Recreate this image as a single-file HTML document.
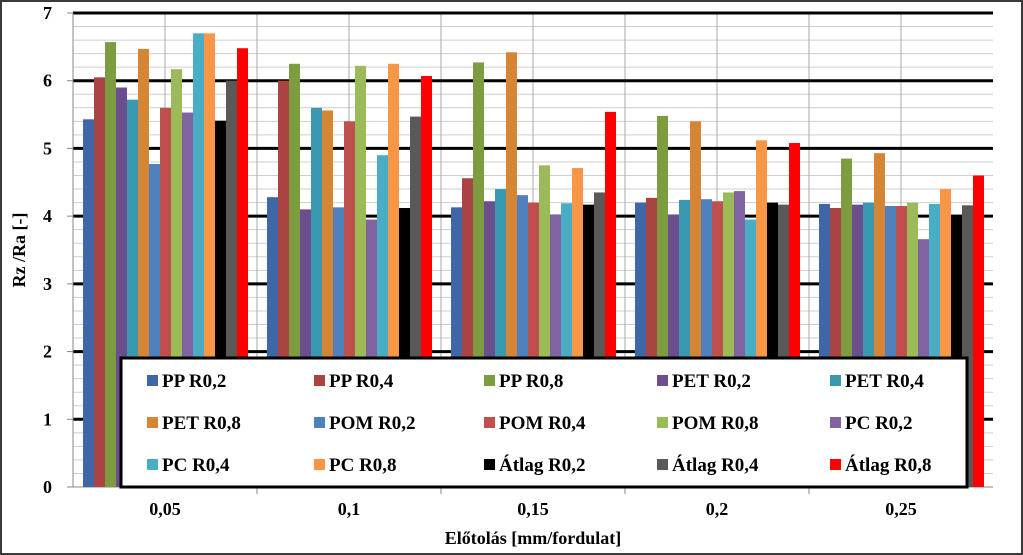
<!DOCTYPE html>
<html><head><meta charset="utf-8"><style>
body{margin:0;background:#fff;}
#wrap{position:relative;width:1023px;height:555px;overflow:hidden;background:#fff;}
#frame{position:absolute;left:0;top:0;width:1019px;height:551px;border:2px solid #3a3a3a;}
svg text{font-family:"Liberation Serif",serif;font-weight:bold;}
</style></head><body>
<div id="wrap">
<div id="frame"></div>
<svg id="chart" width="1023" height="555" style="position:absolute;left:0;top:0"></svg>
</div>
<script>
const categories=["0,05","0,1","0,15","0,2","0,25"];
const seriesNames=["PP R0,2","PP R0,4","PP R0,8","PET R0,2","PET R0,4","PET R0,8","POM R0,2","POM R0,4","POM R0,8","PC R0,2","PC R0,4","PC R0,8","Átlag R0,2","Átlag R0,4","Átlag R0,8"];
const seriesColors=["#3F66A6","#A94442","#7D9B3F","#6A4E8E","#3A98B0","#D58534","#4F81BD","#C0504D","#9BBB59","#8064A2","#4BACC6","#F79646","#000000","#595959","#FF0000"];
const values=[
[5.43,4.28,4.13,4.20,4.18],
[6.05,6.00,4.56,4.27,4.12],
[6.57,6.25,6.27,5.48,4.85],
[5.90,4.10,4.22,4.02,4.17],
[5.72,5.60,4.40,4.24,4.20],
[6.47,5.56,6.42,5.40,4.93],
[4.77,4.13,4.31,4.25,4.15],
[5.60,5.40,4.20,4.22,4.15],
[6.17,6.22,4.75,4.35,4.20],
[5.53,3.95,4.02,4.37,3.66],
[6.70,4.90,4.19,3.95,4.18],
[6.70,6.25,4.71,5.12,4.40],
[5.41,4.12,4.17,4.20,4.02],
[6.00,5.47,4.35,4.17,4.16],
[6.48,6.07,5.54,5.08,4.60]];
const yTicks=[0,1,2,3,4,5,6,7];
const svg=document.getElementById('chart');
const NS='http://www.w3.org/2000/svg';
const L=73,R=993,T=13,B=487,yMax=7;
const gw=(R-L)/categories.length, bw=11, off=10;
const y=v=>B-(v/yMax)*(B-T);
function mk(tag,a){const e=document.createElementNS(NS,tag);for(const k in a)e.setAttribute(k,a[k]);svg.appendChild(e);return e;}
// minor grid
for(let v=0.2;v<yMax;v+=0.2){if(Math.abs(v-Math.round(v))<1e-6)continue;
 const g=mk('line',{x1:L,x2:R,y1:y(v),y2:y(v),stroke:'#cfcfcf','stroke-width':1});
 
 }
for(let i=1;i<categories.length*2;i++){const x=L+i*gw/2;
 const g=mk('line',{x1:x,x2:x,y1:T,y2:B,stroke:'#a8a8a8','stroke-width':1});
 
 }
yTicks.forEach(v=>{if(v>0){const g=mk('line',{x1:L,x2:R,y1:y(v),y2:y(v),stroke:'#000','stroke-width':3});
 
 }
 const t=mk('text',{x:52,y:y(v)+6,'text-anchor':'end','font-size':18});t.textContent=v;
 
 
 const tk=mk('line',{x1:L-6,x2:L,y1:y(v),y2:y(v),stroke:'#888'});
 
 });
const ax=mk('line',{x1:L,x2:L,y1:T,y2:B,stroke:'#888'});


const xa=mk('line',{x1:L,x2:R,y1:B,y2:B,stroke:'#888'});


// bars
values.forEach((ser,s)=>{ser.forEach((v,c)=>{
 const r=mk('rect',{x:L+c*gw+off+s*bw,y:y(v),width:bw,height:B-y(v),fill:seriesColors[s]});
 
 });});
categories.forEach((c,i)=>{const t=mk('text',{x:L+i*gw+gw/2,y:515,'text-anchor':'middle','font-size':18});t.textContent=c;
 
 
 if(i>0){const tk=mk('line',{x1:L+i*gw,x2:L+i*gw,y1:B,y2:B+7,stroke:'#888'});
 
 }});
const xt=mk('text',{x:533,y:544,'text-anchor':'middle','font-size':18});xt.textContent='Előtolás [mm/fordulat]';


const yt=mk('text',{x:0,y:0,'text-anchor':'middle','font-size':18,transform:'translate(25,250) rotate(-90)'});yt.textContent='Rz /Ra [-]';


// legend
const lg=mk('rect',{x:121,y:358,width:846,height:129,fill:'#fff',stroke:'#000','stroke-width':3});


const colX=[147,314,484,657,830], rowY=[381,423,465];
seriesNames.forEach((n,i)=>{const cx=colX[i%5],cy=rowY[Math.floor(i/5)];
 const m=mk('rect',{x:cx,y:cy-6,width:11,height:11,fill:seriesColors[i]});
 
 
 const t=mk('text',{x:cx+15,y:cy+6,'font-size':19});t.textContent=n;
 
 });
</script>
</body></html>
